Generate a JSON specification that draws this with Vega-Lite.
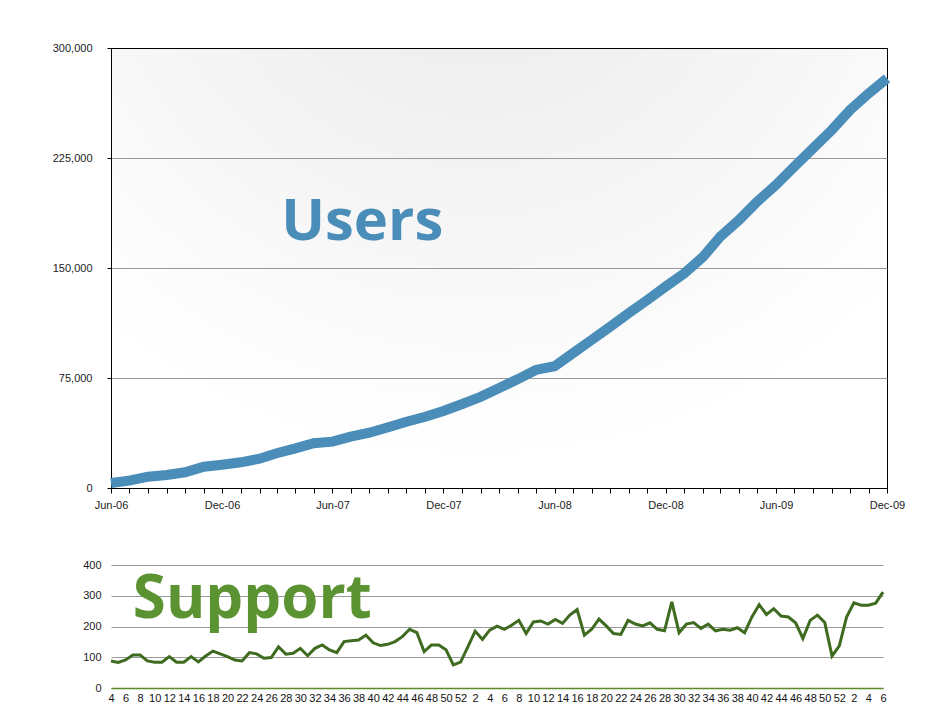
{
  "$schema": "https://vega.github.io/schema/vega-lite/v6.json",
  "padding": {"left": 50, "top": 41, "right": 5, "bottom": 5},
  "background": "white",
  "spacing": 48,
  "config": {
    "font": "Liberation Sans",
    "axis": {"labelFont": "Liberation Sans", "labelFontSize": 11, "labelColor": "#222", "gridColor": "#999", "gridWidth": 1}
  },
  "vconcat": [
    {
      "width": 776,
      "height": 440,
      "view": {
        "stroke": "#000", "strokeWidth": 1,
        "fill": {"gradient": "radial", "x1": 0.47, "y1": 0, "r1": 0, "x2": 0.47, "y2": 0, "r2": 1,
          "stops": [{"offset": 0, "color": "#e8e8e8"}, {"offset": 0.75, "color": "#ffffff"}]}
      },
      "layer": [
        {
          "data": {"values": [
            {"d": "2006-06-01", "v": 3400}, {"d": "2006-07-01", "v": 5000}, {"d": "2006-08-01", "v": 7700},
            {"d": "2006-09-01", "v": 8900}, {"d": "2006-10-01", "v": 10700}, {"d": "2006-11-01", "v": 14500},
            {"d": "2006-12-01", "v": 15900}, {"d": "2007-01-01", "v": 17500}, {"d": "2007-02-01", "v": 20000},
            {"d": "2007-03-01", "v": 23700}, {"d": "2007-04-01", "v": 27000}, {"d": "2007-05-01", "v": 30500},
            {"d": "2007-06-01", "v": 31600}, {"d": "2007-07-01", "v": 35000}, {"d": "2007-08-01", "v": 37700},
            {"d": "2007-09-01", "v": 41400}, {"d": "2007-10-01", "v": 45200}, {"d": "2007-11-01", "v": 48600},
            {"d": "2007-12-01", "v": 52500}, {"d": "2008-01-01", "v": 57300}, {"d": "2008-02-01", "v": 62300},
            {"d": "2008-03-01", "v": 68000}, {"d": "2008-04-01", "v": 74100}, {"d": "2008-05-01", "v": 80500},
            {"d": "2008-06-01", "v": 83000}, {"d": "2008-07-01", "v": 91800}, {"d": "2008-08-01", "v": 100900},
            {"d": "2008-09-01", "v": 110000}, {"d": "2008-10-01", "v": 119100}, {"d": "2008-11-01", "v": 128200},
            {"d": "2008-12-01", "v": 137300}, {"d": "2009-01-01", "v": 146400}, {"d": "2009-02-01", "v": 157700},
            {"d": "2009-03-01", "v": 171300}, {"d": "2009-04-01", "v": 182700}, {"d": "2009-05-01", "v": 195200},
            {"d": "2009-06-01", "v": 206600}, {"d": "2009-07-01", "v": 219100}, {"d": "2009-08-01", "v": 231600},
            {"d": "2009-09-01", "v": 244100}, {"d": "2009-10-01", "v": 257700}, {"d": "2009-11-01", "v": 269100},
            {"d": "2009-12-01", "v": 279300}
          ]},
          "mark": {"type": "line", "color": "#4a8db8", "strokeWidth": 10, "strokeCap": "butt"},
          "encoding": {
            "x": {
              "field": "d", "type": "temporal",
              "scale": {"type": "utc", "domain": [{"year": 2006, "month": 6, "date": 1, "utc": true}, {"year": 2009, "month": 12, "date": 1, "utc": true}]},
              "axis": {
                "title": null, "grid": false,
                "tickCount": {"interval": "month", "step": 1},
                "labelExpr": "utcmonth(datum.value) % 6 == 5 ? utcFormat(datum.value, '%b-%y') : ''",
                "labelOverlap": false, "labelFlush": false,
                "domainColor": "#000", "tickColor": "#000", "tickSize": 5, "labelPadding": 6
              }
            },
            "y": {
              "field": "v", "type": "quantitative",
              "scale": {"domain": [0, 300000], "nice": false},
              "axis": {
                "title": null, "values": [0, 75000, 150000, 225000, 300000], "format": ",d",
                "grid": true, "gridColor": {"condition": {"test": "datum.value >= 300000", "value": "#000"}, "value": "#999"},
                "domainColor": "#000", "tickColor": "#000", "tickSize": 4, "labelPadding": 15,
                "minExtent": 60, "maxExtent": 60
              }
            }
          }
        },
        {
          "data": {"values": [{"d": "2007-07-20", "v": 169000, "t": "Users"}]},
          "mark": {"type": "text", "font": "Open Sans", "fontWeight": "bold", "fontSize": 58, "color": "#4a8db8", "align": "center", "baseline": "alphabetic"},
          "encoding": {
            "x": {
              "field": "d", "type": "temporal",
              "scale": {"type": "utc", "domain": [{"year": 2006, "month": 6, "date": 1, "utc": true}, {"year": 2009, "month": 12, "date": 1, "utc": true}]},
              "axis": {
                "title": null, "grid": false,
                "tickCount": {"interval": "month", "step": 1},
                "labelExpr": "utcmonth(datum.value) % 6 == 5 ? utcFormat(datum.value, '%b-%y') : ''",
                "labelOverlap": false, "labelFlush": false,
                "domainColor": "#000", "tickColor": "#000", "tickSize": 5, "labelPadding": 6
              }
            },
            "y": {
              "field": "v", "type": "quantitative",
              "scale": {"domain": [0, 300000], "nice": false},
              "axis": {
                "title": null, "values": [0, 75000, 150000, 225000, 300000], "format": ",d",
                "grid": true, "gridColor": {"condition": {"test": "datum.value >= 300000", "value": "#000"}, "value": "#999"},
                "domainColor": "#000", "tickColor": "#000", "tickSize": 4, "labelPadding": 15,
                "minExtent": 60, "maxExtent": 60
              }
            },
            "text": {"field": "t"}
          }
        }
      ]
    },
    {
      "width": 772,
      "height": 123,
      "view": {"stroke": null},
      "layer": [
        {
          "data": {"values": [
            {"wk": "2008-04", "v": 88}, {"wk": "2008-05", "v": 83}, {"wk": "2008-06", "v": 91}, {"wk": "2008-07", "v": 107},
            {"wk": "2008-08", "v": 107}, {"wk": "2008-09", "v": 88}, {"wk": "2008-10", "v": 84}, {"wk": "2008-11", "v": 84},
            {"wk": "2008-12", "v": 102}, {"wk": "2008-13", "v": 84}, {"wk": "2008-14", "v": 84}, {"wk": "2008-15", "v": 102},
            {"wk": "2008-16", "v": 85}, {"wk": "2008-17", "v": 104}, {"wk": "2008-18", "v": 120}, {"wk": "2008-19", "v": 111},
            {"wk": "2008-20", "v": 102}, {"wk": "2008-21", "v": 91}, {"wk": "2008-22", "v": 88}, {"wk": "2008-23", "v": 115},
            {"wk": "2008-24", "v": 111}, {"wk": "2008-25", "v": 97}, {"wk": "2008-26", "v": 99}, {"wk": "2008-27", "v": 134},
            {"wk": "2008-28", "v": 110}, {"wk": "2008-29", "v": 113}, {"wk": "2008-30", "v": 129}, {"wk": "2008-31", "v": 105},
            {"wk": "2008-32", "v": 129}, {"wk": "2008-33", "v": 140}, {"wk": "2008-34", "v": 124}, {"wk": "2008-35", "v": 115},
            {"wk": "2008-36", "v": 151}, {"wk": "2008-37", "v": 154}, {"wk": "2008-38", "v": 156}, {"wk": "2008-39", "v": 172},
            {"wk": "2008-40", "v": 147}, {"wk": "2008-41", "v": 138}, {"wk": "2008-42", "v": 142}, {"wk": "2008-43", "v": 151},
            {"wk": "2008-44", "v": 167}, {"wk": "2008-45", "v": 191}, {"wk": "2008-46", "v": 180}, {"wk": "2008-47", "v": 118},
            {"wk": "2008-48", "v": 140}, {"wk": "2008-49", "v": 140}, {"wk": "2008-50", "v": 124}, {"wk": "2008-51", "v": 75},
            {"wk": "2008-52", "v": 84},
            {"wk": "2009-01", "v": 134}, {"wk": "2009-02", "v": 185}, {"wk": "2009-03", "v": 158}, {"wk": "2009-04", "v": 188},
            {"wk": "2009-05", "v": 201}, {"wk": "2009-06", "v": 191}, {"wk": "2009-07", "v": 204}, {"wk": "2009-08", "v": 220},
            {"wk": "2009-09", "v": 177}, {"wk": "2009-10", "v": 215}, {"wk": "2009-11", "v": 218}, {"wk": "2009-12", "v": 208},
            {"wk": "2009-13", "v": 223}, {"wk": "2009-14", "v": 210}, {"wk": "2009-15", "v": 237}, {"wk": "2009-16", "v": 255},
            {"wk": "2009-17", "v": 172}, {"wk": "2009-18", "v": 191}, {"wk": "2009-19", "v": 224}, {"wk": "2009-20", "v": 202},
            {"wk": "2009-21", "v": 177}, {"wk": "2009-22", "v": 174}, {"wk": "2009-23", "v": 220}, {"wk": "2009-24", "v": 208},
            {"wk": "2009-25", "v": 202}, {"wk": "2009-26", "v": 212}, {"wk": "2009-27", "v": 191}, {"wk": "2009-28", "v": 186},
            {"wk": "2009-29", "v": 280}, {"wk": "2009-30", "v": 180}, {"wk": "2009-31", "v": 208}, {"wk": "2009-32", "v": 213},
            {"wk": "2009-33", "v": 194}, {"wk": "2009-34", "v": 208}, {"wk": "2009-35", "v": 186}, {"wk": "2009-36", "v": 191},
            {"wk": "2009-37", "v": 188}, {"wk": "2009-38", "v": 196}, {"wk": "2009-39", "v": 180}, {"wk": "2009-40", "v": 231},
            {"wk": "2009-41", "v": 271}, {"wk": "2009-42", "v": 239}, {"wk": "2009-43", "v": 258}, {"wk": "2009-44", "v": 234},
            {"wk": "2009-45", "v": 231}, {"wk": "2009-46", "v": 212}, {"wk": "2009-47", "v": 161}, {"wk": "2009-48", "v": 220},
            {"wk": "2009-49", "v": 237}, {"wk": "2009-50", "v": 213}, {"wk": "2009-51", "v": 104}, {"wk": "2009-52", "v": 137},
            {"wk": "2010-01", "v": 231}, {"wk": "2010-02", "v": 277}, {"wk": "2010-03", "v": 269}, {"wk": "2010-04", "v": 269},
            {"wk": "2010-05", "v": 276}, {"wk": "2010-06", "v": 312}
          ]},
          "mark": {"type": "line", "color": "#3e6b1f", "strokeWidth": 3},
          "encoding": {
            "x": {
              "field": "wk", "type": "ordinal",
              "scale": {"type": "point", "padding": 0},
              "axis": {
                "title": null, "labelAngle": 0, "ticks": false, "grid": false,
                "domainColor": "#5a8a2a", "domainWidth": 1.5, "labelPadding": 4, "labelOverlap": false,
                "labelColor": "#111",
                "labelExpr": "toNumber(slice(datum.label, 5)) % 2 == 0 ? '' + toNumber(slice(datum.label, 5)) : ''"
              }
            },
            "y": {
              "field": "v", "type": "quantitative",
              "scale": {"domain": [0, 400], "nice": false},
              "axis": {
                "title": null, "values": [0, 100, 200, 300, 400], "domain": false, "ticks": false,
                "labelPadding": 10, "grid": true, "minExtent": 60, "maxExtent": 60
              }
            }
          }
        },
        {
          "data": {"values": [{"wk": "2008-07", "v": 228, "t": "Support"}]},
          "mark": {"type": "text", "font": "Open Sans", "fontWeight": "bold", "fontSize": 60, "color": "#5b9232", "align": "left", "baseline": "alphabetic"},
          "encoding": {
            "x": {
              "field": "wk", "type": "ordinal",
              "scale": {"type": "point", "padding": 0},
              "axis": {
                "title": null, "labelAngle": 0, "ticks": false, "grid": false,
                "domainColor": "#5a8a2a", "domainWidth": 1.5, "labelPadding": 4, "labelOverlap": false,
                "labelColor": "#111",
                "labelExpr": "toNumber(slice(datum.label, 5)) % 2 == 0 ? '' + toNumber(slice(datum.label, 5)) : ''"
              }
            },
            "y": {
              "field": "v", "type": "quantitative",
              "scale": {"domain": [0, 400], "nice": false},
              "axis": {
                "title": null, "values": [0, 100, 200, 300, 400], "domain": false, "ticks": false,
                "labelPadding": 10, "grid": true, "minExtent": 60, "maxExtent": 60
              }
            },
            "text": {"field": "t"}
          }
        }
      ]
    }
  ]
}
